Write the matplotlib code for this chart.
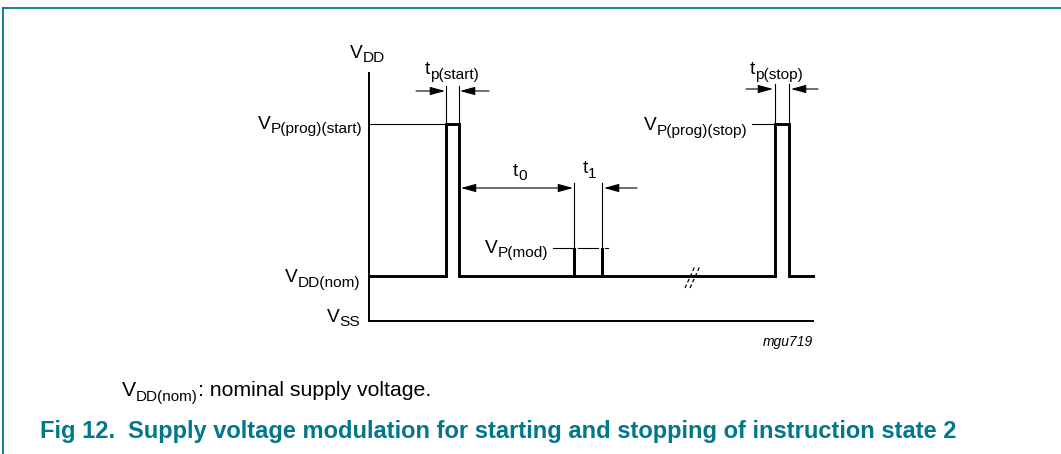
import matplotlib
matplotlib.use("Agg")
import matplotlib.pyplot as plt
from matplotlib.patches import FancyArrowPatch

plt.rcParams['font.family'] = ['Liberation Sans', 'DejaVu Sans']

# everything is laid out in pixel units of the 1061x454 picture
W, H = 1061, 454
teal = '#00778b'

# time axis (x) and voltage levels (y)
t_axis = 369
t_end = 813
v_ss = 321
v_nom = 276
v_mod = 248
v_prog = 124
v_top = 73

pulse_start = [446, 459]
mod_spikes = [574, 602]
pulse_stop = [775, 789]
break_at = 692

fig = plt.figure(figsize=(W / 100, H / 100), dpi=100)
ax = fig.add_axes([0, 0, 1, 1])
ax.set_xlim(0, W)
ax.set_ylim(H, 0)
ax.axis('off')
rend = fig.canvas.get_renderer()


def label(x, y, parts, ha='left', size=13.8, ratio=0.8, drop=4.5, **kw):
    # parts: list of (text, is_subscript)
    texts = []
    for s, sub in parts:
        t = ax.text(0, y + (drop if sub else 0), s, fontsize=size * ratio if sub else size,
                    va='baseline', ha='left', **kw)
        texts.append(t)
    widths = [t.get_window_extent(rend).width for t in texts]
    total = sum(widths)
    x0 = x - total if ha == 'right' else (x - total / 2 if ha == 'center' else x)
    for t, w in zip(texts, widths):
        t.set_x(x0)
        x0 += w


def arrow(x1, x2, y, style='-|>'):
    ax.add_patch(FancyArrowPatch((x1, y), (x2, y), arrowstyle=style + ',head_length=0.65,head_width=0.18',
                                 mutation_scale=14, lw=0.8, color='black', shrinkA=0, shrinkB=0))


# frame
ax.plot([3, W], [8, 8], color=teal, lw=1.3)
ax.plot([3, 3], [8, H], color=teal, lw=1.3)

# axes
ax.plot([t_axis, t_axis], [v_top, v_ss], color='black', lw=1.4)
ax.plot([t_axis, t_end], [v_ss, v_ss], color='black', lw=1.4)

# waveform
xs, ys = [t_axis], [v_nom]
for a, b, lvl in [(pulse_start[0], pulse_start[1], v_prog),
                  (mod_spikes[0], mod_spikes[0], v_mod),
                  (mod_spikes[1], mod_spikes[1], v_mod),
                  (pulse_stop[0], pulse_stop[1], v_prog)]:
    xs += [a, a, b, b]
    ys += [v_nom, lvl, lvl, v_nom]
xs.append(t_end)
ys.append(v_nom)
ax.plot(xs, ys, color='black', lw=2.1, solid_joinstyle='miter')

# break mark
for dx in [0, 5]:
    ax.plot([break_at - 7 + dx, break_at + 3 + dx], [288, 266], color='black', lw=0.9,
            dashes=(3, 2))

# thin level lines
ax.plot([t_axis, pulse_start[0]], [v_prog, v_prog], color='black', lw=0.8)
ax.plot([752, pulse_stop[0] - 2], [v_prog, v_prog], color='black', lw=0.8)
ax.plot([553, 572], [v_mod, v_mod], color='black', lw=0.8)
ax.plot([578, 598], [v_mod, v_mod], color='black', lw=0.8)
ax.plot([605, 608], [v_mod, v_mod], color='black', lw=0.8)

# tp(start)
for x in pulse_start:
    ax.plot([x, x], [86, v_prog], color='black', lw=0.8)
arrow(416, pulse_start[0] - 1, 91)
arrow(489, pulse_start[1] + 1, 91)

# t0 / t1
arrow(pulse_start[1] + 2, mod_spikes[0] - 1, 188, style='<|-|>')
for x in mod_spikes:
    ax.plot([x, x], [183, v_mod], color='black', lw=0.8)
arrow(637, mod_spikes[1] + 2, 188)

# tp(stop)
for x in pulse_stop:
    ax.plot([x, x], [84, v_prog], color='black', lw=0.8)
arrow(746, pulse_stop[0] - 2, 89)
arrow(818, pulse_stop[1] + 2, 89)

# labels
label(350, 58, [('V', False), ('DD', True)])
label(425, 74, [('t', False), ('p(start)', True)])
label(362, 129, [('V', False), ('P(prog)(start)', True)], ha='right')
label(513, 176, [('t', False), ('0', True)])
label(583, 173, [('t', False), ('1', True)])
label(548, 253, [('V', False), ('P(mod)', True)], ha='right')
label(360, 282, [('V', False), ('DD(nom)', True)], ha='right')
label(360, 322, [('V', False), ('SS', True)], ha='right')
label(750, 74, [('t', False), ('p(stop)', True)])
label(747, 130, [('V', False), ('P(prog)(stop)', True)], ha='right')
ax.text(813, 346, 'mgu719', fontsize=10, style='italic', ha='right', va='baseline')

label(122, 396, [('V', False), ('DD(nom)', True), (': nominal supply voltage.', False)],
      size=15.3, ratio=0.72, drop=5)
ax.text(40, 438, 'Fig 12.', fontsize=17, fontweight='bold', color=teal, va='baseline')
ax.text(128, 438, 'Supply voltage modulation for starting and stopping of instruction state 2',
        fontsize=17, fontweight='bold', color=teal, va='baseline')

fig.savefig('out.png', dpi=100)
